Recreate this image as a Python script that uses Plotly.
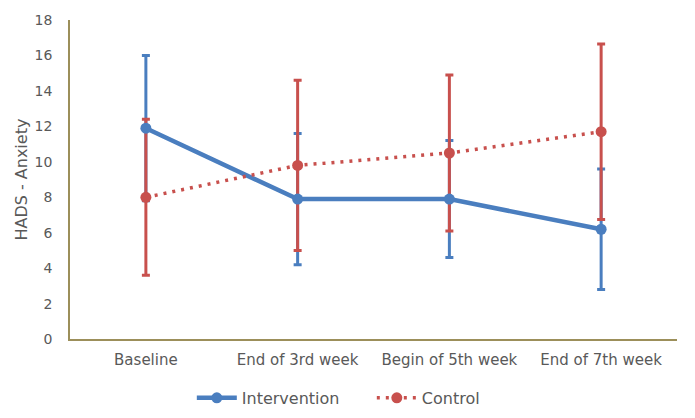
import plotly.graph_objects as go

categories = ["Baseline", "End of 3rd week", "Begin of 5th week", "End of 7th week"]
intervention_mean = [11.9, 7.9, 7.9, 6.2]
intervention_sd = [4.1, 3.7, 3.3, 3.4]
control_mean = [8.0, 9.8, 10.5, 11.7]
control_sd = [4.4, 4.8, 4.4, 4.95]
y_ticks = [0, 2, 4, 6, 8, 10, 12, 14, 16, 18]

BLUE = "#4A7EBF"
RED = "#C8504D"
AXIS = "#9C8F5A"
TEXT = "#595959"
FONT = "DejaVu Sans"

fig = go.Figure()
# error bars first (underneath lines)
fig.add_trace(go.Scatter(
    x=categories, y=intervention_mean, mode="markers",
    marker=dict(size=1, color="rgba(0,0,0,0)"),
    error_y=dict(type="data", array=intervention_sd, color=BLUE, thickness=3, width=4),
    showlegend=False, hoverinfo="skip"))
fig.add_trace(go.Scatter(
    x=categories, y=control_mean, mode="markers",
    marker=dict(size=1, color="rgba(0,0,0,0)"),
    error_y=dict(type="data", array=control_sd, color=RED, thickness=3, width=4),
    showlegend=False, hoverinfo="skip"))
fig.add_trace(go.Scatter(
    x=categories, y=intervention_mean, mode="lines+markers", name="Intervention",
    line=dict(color=BLUE, width=4.5), marker=dict(size=11, color=BLUE)))
fig.add_trace(go.Scatter(
    x=categories, y=control_mean, mode="lines+markers", name="Control",
    line=dict(color=RED, width=3.5, dash="3px,6px"), marker=dict(size=11, color=RED)))

fig.add_annotation(text="HADS - Anxiety", textangle=-90, xref="paper", yref="paper",
                   x=(22 - 70) / 607, y=0.5, xanchor="center", yanchor="middle",
                   showarrow=False, font=dict(size=16, color=TEXT))

fig.update_layout(
    width=695, height=418,
    margin=dict(l=70, r=18, t=20, b=77),
    plot_bgcolor="white", paper_bgcolor="white",
    font=dict(family=FONT, color=TEXT, size=15),
    showlegend=True,
    legend=dict(orientation="h", x=0.276, xanchor="left", xref="container",
                y=0.048, yanchor="middle", yref="container",
                font=dict(size=16, color=TEXT), itemwidth=40,
                entrywidth=125, entrywidthmode="pixels"),
    xaxis=dict(range=[-0.5, 3.5], showline=True, linecolor=AXIS, linewidth=1.5,
               showgrid=False, ticks="", tickfont=dict(size=15, color=TEXT), zeroline=False,
               ticklabelstandoff=6),
    yaxis=dict(range=[0, 18], tickvals=y_ticks, showline=True, linecolor=AXIS, linewidth=1.5,
               showgrid=False, ticks="", zeroline=False, tickfont=dict(size=14, color=TEXT),
               ticklabelstandoff=13),
)

fig.write_html("out.html", config={"displayModeBar": False},
               post_script="document.body.style.margin='0';")
